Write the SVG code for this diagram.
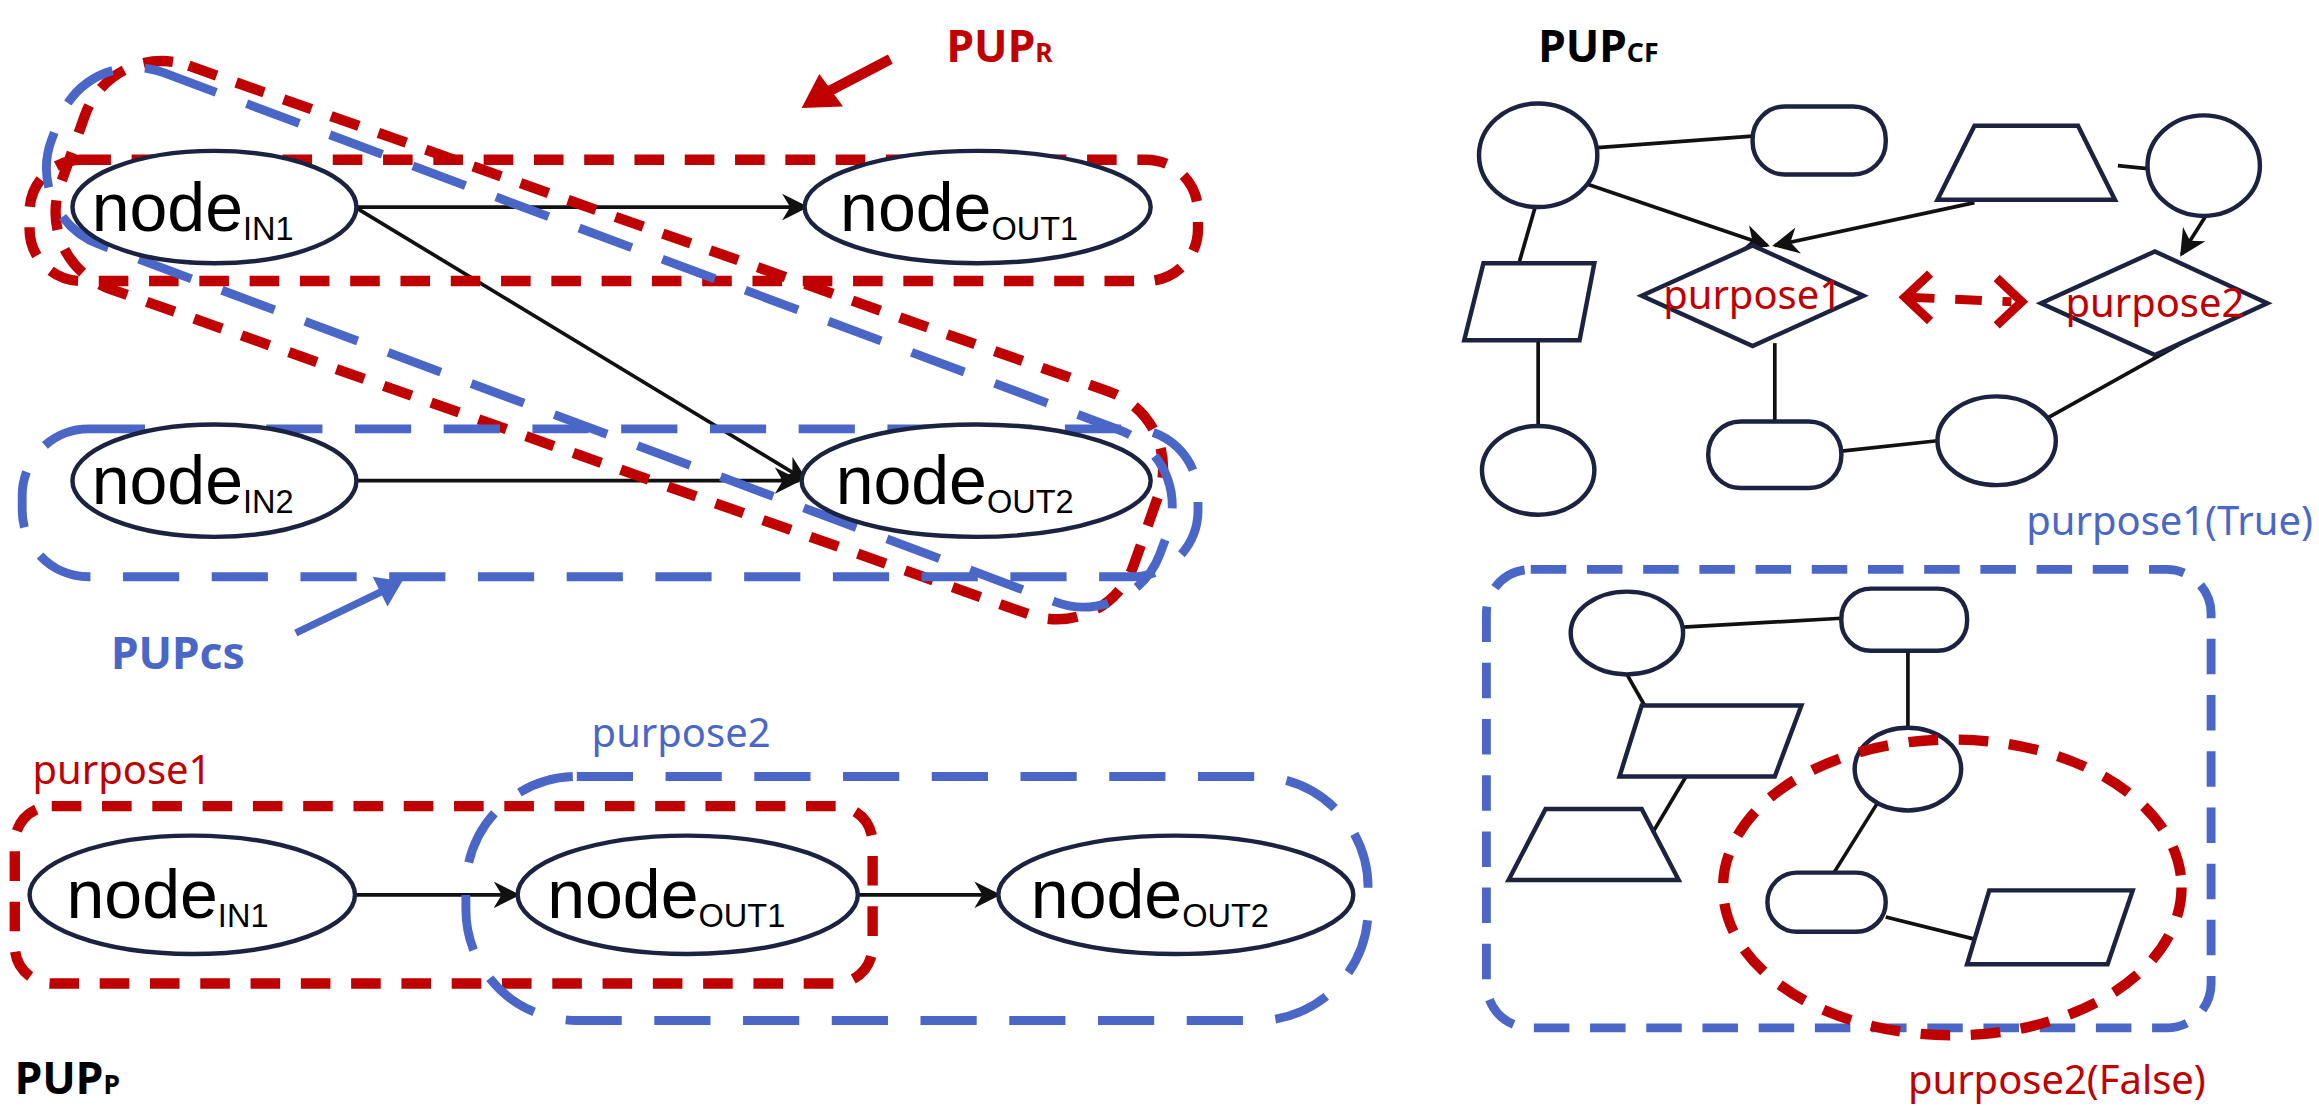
<svg xmlns="http://www.w3.org/2000/svg" width="2319" height="1109" viewBox="0 0 2319 1109">
<style>
.n{fill:#fff;stroke:#1b2340;stroke-width:3}
.t{font-family:"Liberation Sans",Arial,sans-serif;font-size:46px;fill:#000}
.s{font-size:22px}
.e{stroke:#111;stroke-width:2.5;fill:none}
.rd{fill:none;stroke:#c00000;stroke-width:7;stroke-dasharray:20 14}
.bd{fill:none;stroke:#4a67c8;stroke-width:6;stroke-dasharray:38 22}
.lr{font-family:"Noto Sans",sans-serif;font-size:27px;fill:#c00000}
.lb{font-family:"Noto Sans",sans-serif;font-size:27px;fill:#4a67c8}
.h{font-family:"Noto Sans",sans-serif;font-weight:bold;font-size:30px}
</style>
<defs>
<marker id="a" viewBox="0 0 10 10" refX="9" refY="5" markerWidth="18" markerHeight="18" orient="auto" markerUnits="userSpaceOnUse"><path d="M0,0 L10,5 L0,10 L3,5z" fill="#111"/></marker>
</defs>
<rect width="2319" height="1109" fill="#fff"/>
<g transform="scale(1.479)">
<g id="connectors">
<line class="e" x1="240" y1="140" x2="545" y2="140" marker-end="url(#a)"/>
<line class="e" x1="240" y1="140" x2="545" y2="325" marker-end="url(#a)"/>
<line class="e" x1="240" y1="325" x2="540" y2="325" marker-end="url(#a)"/>
<line class="e" x1="240" y1="605" x2="350" y2="605" marker-end="url(#a)"/>
<line class="e" x1="580" y1="605" x2="675" y2="605" marker-end="url(#a)"/>
<line class="e" x1="1078" y1="100" x2="1185" y2="92"/>
<line class="e" x1="1038" y1="140" x2="1027" y2="178"/>
<line class="e" x1="1040" y1="230" x2="1040" y2="288"/>
<line class="e" x1="1060" y1="120" x2="1195" y2="166" marker-end="url(#a)"/>
<line class="e" x1="1335" y1="137" x2="1200" y2="166" marker-end="url(#a)"/>
<line class="e" x1="1432" y1="112" x2="1452" y2="114"/>
<line class="e" x1="1492" y1="145" x2="1475" y2="172" marker-end="url(#a)"/>
<line class="e" x1="1200" y1="232" x2="1200" y2="285"/>
<line class="e" x1="1245" y1="305" x2="1310" y2="298"/>
<line class="e" x1="1380" y1="285" x2="1493" y2="222"/>
<line class="e" x1="1138" y1="424" x2="1245" y2="418"/>
<line class="e" x1="1100" y1="456" x2="1112" y2="477"/>
<line class="e" x1="1140" y1="525" x2="1115" y2="567"/>
<line class="e" x1="1290" y1="440" x2="1290" y2="492"/>
<line class="e" x1="1270" y1="542" x2="1240" y2="590"/>
<line class="e" x1="1275" y1="620" x2="1335" y2="635"/>
<line x1="1290" y1="201" x2="1360" y2="204" stroke="#c00000" stroke-width="6" stroke-dasharray="18 14"/>
<path d="M1305,185 L1288,201 L1305,217 M1350,188 L1367,204 L1350,220" fill="none" stroke="#c00000" stroke-width="6"/>
</g>
<g id="PUPR-label">
<text class="h" x="640" y="42" fill="#c00000">PUP<tspan font-size="18">R</tspan></text>
<line x1="602" y1="40" x2="560" y2="62" stroke="#c00000" stroke-width="7"/>
<path d="M542,73 L554,50 L570,72z" fill="#c00000"/>
</g>
<g id="groups-top">
<rect class="rd" x="20" y="108" width="790" height="82" rx="35"/>
<rect class="rd" x="-385" y="-80" width="770" height="160" rx="55" transform="translate(412,230) rotate(19.5)"/>
<rect class="bd" x="-400" y="-62" width="800" height="124" rx="55" transform="translate(412,228) rotate(20.5)"/>
<rect class="bd" x="15" y="290" width="795" height="100" rx="45"/>
</g>
<g id="nodeIN1"><ellipse class="n" cx="145" cy="140" rx="96" ry="38"/><text class="t" x="62" y="156">node<tspan class="s" dy="6">IN1</tspan></text></g>
<g id="nodeOUT1"><ellipse class="n" cx="661" cy="140" rx="117" ry="38"/><text class="t" x="568" y="156">node<tspan class="s" dy="6">OUT1</tspan></text></g>
<g id="nodeIN2"><ellipse class="n" cx="145" cy="325" rx="96" ry="38"/><text class="t" x="62" y="341">node<tspan class="s" dy="6">IN2</tspan></text></g>
<g id="nodeOUT2"><ellipse class="n" cx="660" cy="325" rx="118" ry="38"/><text class="t" x="565" y="341">node<tspan class="s" dy="6">OUT2</tspan></text></g>
<g id="PUPcs-label">
<text class="h" x="75" y="452" fill="#4a67c8">PUPcs</text>
<line x1="200" y1="428" x2="258" y2="400" stroke="#4a67c8" stroke-width="5"/>
<path d="M272,393 L252,390 L262,410z" fill="#4a67c8"/>
</g>
<g id="PUPP">
<text class="lr" x="22" y="530">purpose1</text>
<text class="lb" x="400" y="505">purpose2</text>
<rect class="rd" x="10" y="545" width="580" height="120" rx="25"/>
<rect class="bd" x="315" y="525" width="610" height="165" rx="75"/>
<text class="h" x="10" y="740" fill="#000">PUP<tspan font-size="18">P</tspan></text>
</g>
<g id="pIN1"><ellipse class="n" cx="130" cy="605" rx="110" ry="40"/><text class="t" x="45" y="621">node<tspan class="s" dy="6">IN1</tspan></text></g>
<g id="pOUT1"><ellipse class="n" cx="465" cy="605" rx="115" ry="40"/><text class="t" x="370" y="621">node<tspan class="s" dy="6">OUT1</tspan></text></g>
<g id="pOUT2"><ellipse class="n" cx="795" cy="605" rx="120" ry="40"/><text class="t" x="697" y="621">node<tspan class="s" dy="6">OUT2</tspan></text></g>
<g id="PUPCF">
<text class="h" x="1040" y="42" fill="#000">PUP<tspan font-size="18">CF</tspan></text>
<ellipse class="n" cx="1040" cy="105" rx="40" ry="35"/>
<rect class="n" x="1185" y="72" width="90" height="46" rx="22"/>
<path class="n" d="M1335,85 L1405,85 L1430,135 L1310,135z"/>
<ellipse class="n" cx="1490" cy="112" rx="38" ry="34"/>
<path class="n" d="M1003,178 L1078,178 L1068,230 L990,230z"/>
<path class="n" d="M1110,200 L1185,166 L1260,200 L1185,234z"/>
<text class="lr" x="1185" y="209" text-anchor="middle" font-size="25">purpose1</text>
<path class="n" d="M1380,205 L1457,170 L1533,205 L1457,240z"/>
<text class="lr" x="1457" y="214" text-anchor="middle" font-size="25">purpose2</text>
<ellipse class="n" cx="1040" cy="318" rx="38" ry="30"/>
<rect class="n" x="1155" y="285" width="90" height="45" rx="22"/>
<ellipse class="n" cx="1350" cy="298" rx="40" ry="30"/>
<text class="lb" x="1370" y="362" font-size="25">purpose1(True)</text>
</g>
<g id="PUPfalse">
<rect class="bd" x="1005" y="385" width="490" height="310" rx="30" style="stroke-dasharray:24 14"/>
<ellipse class="n" cx="1100" cy="428" rx="38" ry="28"/>
<rect class="n" x="1245" y="398" width="85" height="42" rx="20"/>
<path class="n" d="M1110,477 L1218,477 L1200,525 L1095,525z"/>
<path class="n" d="M1045,547 L1110,547 L1135,595 L1020,595z"/>
<ellipse class="n" cx="1290" cy="520" rx="36" ry="28"/>
<ellipse class="rd" cx="1320" cy="600" rx="155" ry="100"/>
<rect class="n" x="1195" y="590" width="80" height="40" rx="20"/>
<path class="n" d="M1345,602 L1442,602 L1425,652 L1330,652z"/>
<text class="lr" x="1290" y="740" font-size="25">purpose2(False)</text>
</g>
</g>
</svg>
